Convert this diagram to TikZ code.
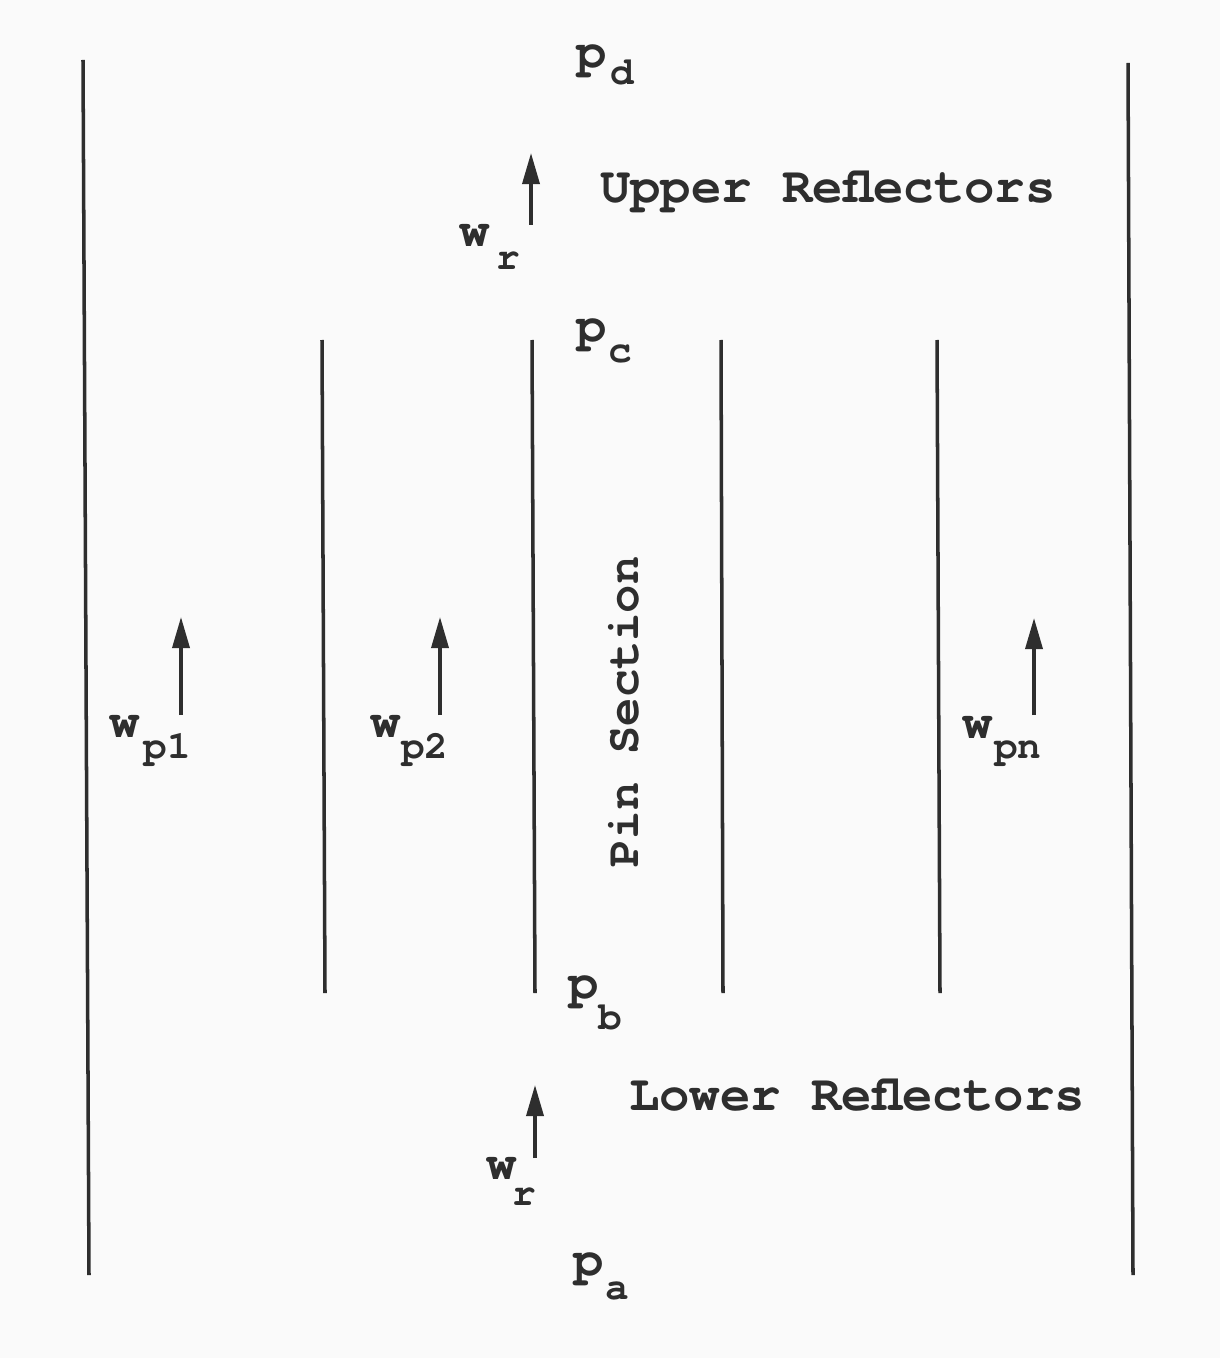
\documentclass[tikz,border=0pt]{standalone}
\usepackage{fontspec}
\setmonofont{texgyrecursor}[Extension=.otf, UprightFont=*-regular, BoldFont=*-bold]
\usetikzlibrary{arrows.meta}
\definecolor{ink}{HTML}{2E2E2E}
\newcommand{\labfont}{\ttfamily\bfseries\fontsize{14.4pt}{16pt}\selectfont}
\newcommand{\vertfont}{\ttfamily\bfseries\fontsize{13.4pt}{15pt}\selectfont}
\newcommand{\subfont}{\ttfamily\bfseries\fontsize{11.2pt}{13pt}\selectfont}
% symbol with a typewriter-style lowered index: #1 symbol, #2 gap, #3 drop, #4 index
\newcommand{\idx}[4]{#1\hspace{#2}\raisebox{-#3}{\subfont #4}}
\begin{document}
\begin{tikzpicture}[x=0.01cm, y=-0.01cm,
  wall/.style={draw=ink, line width=1pt},
  flow/.style={draw=ink, line width=1pt, -{Triangle[length=0.31cm, width=0.17cm]}},
  lab/.style={inner sep=0pt, outer sep=0pt, anchor=base west, text=ink, font=\labfont}]
\useasboundingbox (0,0) rectangle (1220,1358);
\fill[white!98!black] (0,0) rectangle (1220,1358);

% outer channel walls
\coordinate (LT) at (83,60);   \coordinate (LB) at (89,1275);
\coordinate (RT) at (1128,63); \coordinate (RB) at (1133,1275);
\draw[wall] (LT) -- (LB);
\draw[wall] (RT) -- (RB);

% pin walls of the pin section
\foreach \n/\xt/\xb in {a/322/325, b/532/535, c/721/723, d/937/940}{
  \coordinate (pin\n t) at (\xt,340);
  \coordinate (pin\n b) at (\xb,993);
  \draw[wall] (pin\n t) -- (pin\n b);
}

% pressure levels
\node[lab] (pd) at (576,68)   {\idx{p}{1.3pt}{4.6pt}{d}};
\node[lab] (pc) at (576,342)  {\idx{p}{0.7pt}{5.7pt}{c}};
\node[lab] (pb) at (568,998)  {\idx{p}{0pt}{9pt}{b}};
\node[lab] (pa) at (573,1275) {\idx{p}{0.5pt}{7.1pt}{a}};

% region names
\node[lab] (upper) at (600,203) {Upper Reflectors};
\node[lab] (lower) at (629,1110) {Lower Reflectors};
\node[text=ink, font=\vertfont, inner sep=0pt, rotate=90] (pin) at (624,712) {Pin Section};

% reflector flows
\coordinate (ur0) at (531,225); \coordinate (ur1) at (531,153);
\draw[flow] (ur0) -- (ur1);
\node[lab] (wr1) at (459,247) {\idx{w}{1.9pt}{6.5pt}{r}};

\coordinate (lr0) at (535,1158); \coordinate (lr1) at (535,1085);
\draw[flow] (lr0) -- (lr1);
\node[lab] (wr2) at (486,1179) {\idx{w}{-1.2pt}{7.4pt}{r}};

% pin channel flows
\coordinate (f10) at (181,715); \coordinate (f11) at (181,617);
\draw[flow] (f10) -- (f11);
\node[lab] (wp1) at (109,737) {\idx{w}{1.3pt}{6pt}{p1}};

\coordinate (f20) at (440,715); \coordinate (f21) at (440,617);
\draw[flow] (f20) -- (f21);
\node[lab] (wp2) at (370,737) {\idx{w}{0.2pt}{6pt}{p2}};

\coordinate (fn0) at (1034,715); \coordinate (fn1) at (1034,618);
\draw[flow] (fn0) -- (fn1);
\node[lab] (wpn) at (962,738) {\idx{w}{0.5pt}{5.7pt}{pn}};
\end{tikzpicture}
\end{document}
